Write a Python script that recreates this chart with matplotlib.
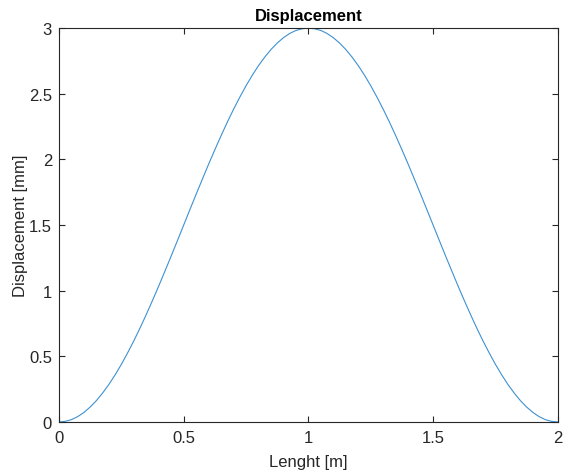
import matplotlib
matplotlib.use("Agg")
import matplotlib.pyplot as plt

# Beam deflection along its length
length_m = [0.000, 0.025, 0.050, 0.075, 0.100, 0.125, 0.150, 0.175, 0.200, 0.225,
            0.250, 0.275, 0.300, 0.325, 0.350, 0.375, 0.400, 0.425, 0.450, 0.475,
            0.500, 0.525, 0.550, 0.575, 0.600, 0.625, 0.650, 0.675, 0.700, 0.725,
            0.750, 0.775, 0.800, 0.825, 0.850, 0.875, 0.900, 0.925, 0.950, 0.975,
            1.000, 1.025, 1.050, 1.075, 1.100, 1.125, 1.150, 1.175, 1.200, 1.225,
            1.250, 1.275, 1.300, 1.325, 1.350, 1.375, 1.400, 1.425, 1.450, 1.475,
            1.500, 1.525, 1.550, 1.575, 1.600, 1.625, 1.650, 1.675, 1.700, 1.725,
            1.750, 1.775, 1.800, 1.825, 1.850, 1.875, 1.900, 1.925, 1.950, 1.975, 2.000]
displacement_mm = [0.000, 0.005, 0.018, 0.041, 0.073, 0.114, 0.163, 0.221, 0.286, 0.359,
                   0.439, 0.526, 0.618, 0.716, 0.819, 0.926, 1.036, 1.150, 1.265, 1.382,
                   1.500, 1.618, 1.735, 1.850, 1.964, 2.074, 2.181, 2.284, 2.382, 2.474,
                   2.561, 2.641, 2.714, 2.779, 2.837, 2.886, 2.927, 2.959, 2.982, 2.995,
                   3.000, 2.995, 2.982, 2.959, 2.927, 2.886, 2.837, 2.779, 2.714, 2.641,
                   2.561, 2.474, 2.382, 2.284, 2.181, 2.074, 1.964, 1.850, 1.735, 1.618,
                   1.500, 1.382, 1.265, 1.150, 1.036, 0.926, 0.819, 0.716, 0.618, 0.526,
                   0.439, 0.359, 0.286, 0.221, 0.163, 0.114, 0.073, 0.041, 0.018, 0.005, 0.000]
x_ticks = [0, 0.5, 1, 1.5, 2]
x_tick_labels = ["0", "0.5", "1", "1.5", "2"]
y_ticks = [0, 0.5, 1, 1.5, 2, 2.5, 3]
y_tick_labels = ["0", "0.5", "1", "1.5", "2", "2.5", "3"]

plt.rcParams["font.family"] = ["Liberation Sans", "DejaVu Sans"]

fig = plt.figure(figsize=(5.64, 4.77), dpi=100)
ax = fig.add_axes([0.1046, 0.1132, 0.8844, 0.8258])

ax.plot(length_m, displacement_mm, color="#3d91d2", lw=0.8)

ax.set_xlim(0, 2)
ax.set_ylim(0, 3)
ax.set_xticks(x_ticks)
ax.set_xticklabels(x_tick_labels)
ax.set_yticks(y_ticks)
ax.set_yticklabels(y_tick_labels)

edge = "#262626"
for s in ax.spines.values():
    s.set_color(edge)
    s.set_linewidth(0.8)
ax.tick_params(direction="in", top=True, right=True, length=4, width=0.8,
               color=edge, labelcolor=edge, labelsize=12)
ax.tick_params(axis="x", pad=6)
ax.tick_params(axis="y", pad=5)

ax.set_xlabel("Lenght [m]", fontsize=12, color=edge, labelpad=6)
ax.set_ylabel("Displacement [mm]", fontsize=12, color=edge, labelpad=1)
ax.set_title("Displacement", fontsize=12, fontweight="bold", color="black", pad=6)

fig.savefig("out.png", dpi=100)
